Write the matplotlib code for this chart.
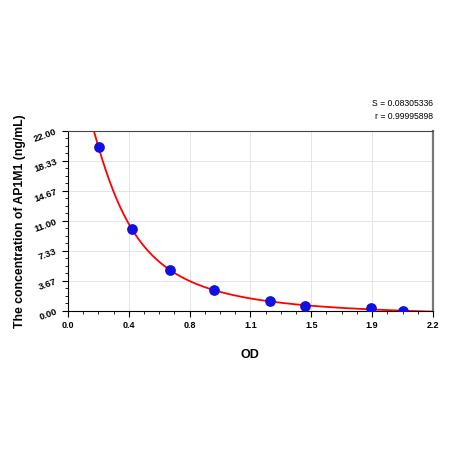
import numpy as np
import matplotlib.pyplot as plt
from matplotlib.ticker import AutoMinorLocator

#### DATA ####
od = [0.185, 0.384, 0.613, 0.880, 1.216, 1.427, 1.829, 2.020]
conc = [20.0, 10.0, 5.0, 2.5, 1.25, 0.625, 0.3125, 0.0]
x_ticks = [0.0, 0.3667, 0.7333, 1.1, 1.4667, 1.8333, 2.2]
x_labels = ["0.0", "0.4", "0.8", "1.1", "1.5", "1.9", "2.2"]
y_ticks = [0.0, 3.667, 7.333, 11.0, 14.667, 18.333, 22.0]
y_labels = ["0.00", "3.67", "7.33", "11.00", "14.67", "18.33", "22.00"]
stats = ["S = 0.08305336", "r = 0.99995898"]

plt.rcParams['font.family'] = ['Liberation Sans', 'DejaVu Sans']


##### 4PL fit (a, d linear for fixed b, c) #####
def fit_4pl(x, y):
    x = np.asarray(x)
    y = np.asarray(y)
    best = None
    for b in np.linspace(0.5, 6, 111):
        for c in np.linspace(0.05, 3, 296):
            g = 1.0 / (1.0 + (x / c) ** b)
            A = np.column_stack([g, 1 - g])
            coef, *_ = np.linalg.lstsq(A, y, rcond=None)
            err = np.sum((A @ coef - y) ** 2)
            if best is None or err < best[0]:
                best = (err, coef[0], b, c, coef[1])
    return best[1:]


a, b, c, d = fit_4pl(od, conc)
xs = np.linspace(0.05, 2.2, 400)
ys = d + (a - d) / (1.0 + (xs / c) ** b)

##### Plot #####
fig = plt.figure(figsize=(4.5, 4.5), dpi=100)
ax = fig.add_axes([0.151, 0.309, 0.811, 0.400])

ax.plot(xs, ys, color='red', lw=1.3, zorder=3)
ax.scatter(od, conc, s=45, color='#1010e0', zorder=4)

ax.set_xlim(0, 2.2)
ax.set_ylim(0, 22)
ax.set_xticks(x_ticks)
ax.set_xticklabels(x_labels, fontsize=6.5, fontweight='bold')
ax.set_yticks(y_ticks)
ax.set_yticklabels(y_labels, fontsize=6.8, fontweight='bold', rotation=20)
ax.xaxis.set_minor_locator(AutoMinorLocator(4))
ax.yaxis.set_minor_locator(AutoMinorLocator(4))
ax.tick_params(which='major', direction='out', length=4, width=0.8, pad=3)
ax.tick_params(which='minor', direction='out', length=2.5, width=0.6)
ax.grid(True, which='major', color='#e4e4e4', lw=0.7)
ax.set_axisbelow(True)

ax.spines['left'].set_color('black')
ax.spines['bottom'].set_color('black')
ax.spines['top'].set_color('#444444')
ax.spines['right'].set_color('#777777')
ax.spines['right'].set_linewidth(1.6)

ax.set_xlabel("OD", fontsize=9, fontweight='bold', labelpad=14)
ax.set_ylabel("The concentration of AP1M1 (ng/mL)", fontsize=8.8, fontweight='bold', labelpad=5)

fig.text(0.962, 0.770, stats[0], ha='right', va='center', fontsize=6.2)
fig.text(0.962, 0.742, stats[1], ha='right', va='center', fontsize=6.2)

fig.savefig("out.png", dpi=100)
